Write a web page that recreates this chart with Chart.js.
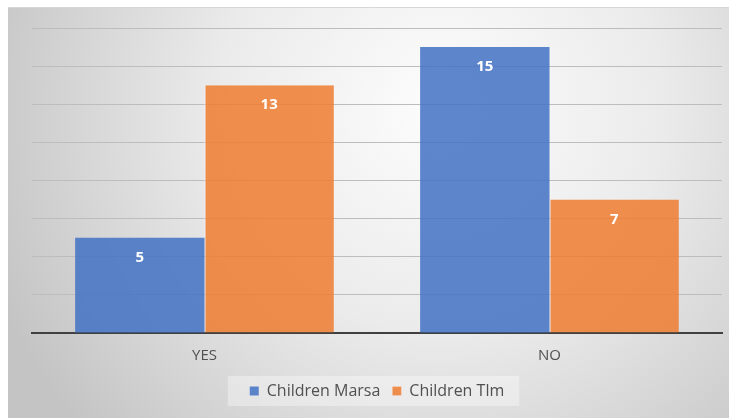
<!DOCTYPE html>
<html>
<head>
<meta charset="utf-8">
<style>
  html, body { margin: 0; padding: 0; background: #fff; }
  #wrap { width: 734px; height: 418px; position: relative; }
</style>
<script src="https://cdn.jsdelivr.net/npm/chart.js@4/dist/chart.umd.min.js"></script>
</head>
<body>
<div id="wrap"><canvas id="chart"></canvas></div>
<script>
(function () {
    'use strict';

    var categories = ['YES', 'NO'];
    var marsaValues = [5, 15];
    var tlmValues = [13, 7];
    var seriesNames = ['Children Marsa', 'Children Tlm'];

    var FONT = '"Open Sans", "Noto Sans", sans-serif';

    // gradient panel behind everything + light box behind the legend
    var panelPlugin = {
        id: 'panel',
        beforeDraw: function (chart) {
            var ctx = chart.ctx;
            var w = chart.width, h = chart.height;
            ctx.save();
            ctx.fillStyle = '#ffffff';
            ctx.fillRect(0, 0, w, h);
            var x0 = 8, y0 = 7, x1 = 729, y1 = h;
            var g = ctx.createRadialGradient(440, 110, 10, 440, 110, 480);
            g.addColorStop(0, '#fcfcfc');
            g.addColorStop(0.45, '#ebebeb');
            g.addColorStop(1, '#c4c4c4');
            ctx.fillStyle = g;
            ctx.fillRect(x0, y0, x1 - x0, y1 - y0);
            ctx.strokeStyle = '#d6d6d6';
            ctx.lineWidth = 1;
            ctx.beginPath();
            ctx.moveTo(x0, y0 + 0.5);
            ctx.lineTo(x1, y0 + 0.5);
            ctx.stroke();

            var boxes = chart.legend && chart.legend.legendHitBoxes;
            if (boxes && boxes.length) {
                var left = boxes[0].left - 22;
                var last = boxes[boxes.length - 1];
                var right = last.left + last.width + 15;
                var cy = boxes[0].top + boxes[0].height / 2;
                ctx.fillStyle = 'rgba(255,255,255,0.35)';
                ctx.fillRect(left, cy - 15, right - left, 30);
            }
            ctx.restore();
        }
    };

    // white value labels just inside the top of each bar
    var valueLabels = {
        id: 'valueLabels',
        afterDatasetsDraw: function (chart) {
            var ctx = chart.ctx;
            ctx.save();
            ctx.font = 'bold 15px ' + FONT;
            ctx.fillStyle = '#ffffff';
            ctx.textAlign = 'center';
            ctx.textBaseline = 'middle';
            chart.data.datasets.forEach(function (ds, i) {
                chart.getDatasetMeta(i).data.forEach(function (bar, j) {
                    ctx.fillText(String(ds.data[j]), bar.x, bar.y + 20);
                });
            });
            ctx.restore();
        }
    };

    new Chart(document.getElementById('chart'), {
        type: 'bar',
        data: {
            labels: categories,
            datasets: [{
                label: seriesNames[0],
                data: marsaValues,
                backgroundColor: 'rgba(68,114,196,0.86)',
                borderWidth: 0
            }, {
                label: seriesNames[1],
                data: tlmValues,
                backgroundColor: 'rgba(237,125,49,0.86)',
                borderColor: 'rgba(255,255,255,0.8)',
                borderWidth: { left: 1, top: 0, right: 0, bottom: 0 },
                borderSkipped: false
            }]
        },
        options: {
            responsive: true,
            maintainAspectRatio: false,
            animation: false,
            layout: { padding: { left: 32, right: 12, top: 28, bottom: 9 } },
            datasets: {
                bar: { categoryPercentage: 0.75, barPercentage: 1 }
            },
            plugins: {
                tooltip: { enabled: false },
                legend: {
                    position: 'bottom',
                    labels: {
                        boxWidth: 9,
                        boxHeight: 9,
                        padding: 12,
                        color: '#505050',
                        font: { family: FONT, size: 16 }
                    }
                }
            },
            scales: {
                x: {
                    grid: { display: false },
                    border: { color: '#404040', width: 2 },
                    ticks: {
                        color: '#505050',
                        padding: 6,
                        font: { family: FONT, size: 15 }
                    }
                },
                y: {
                    min: 0,
                    max: 16,
                    ticks: { display: false, stepSize: 2 },
                    border: { display: false },
                    grid: { color: '#bdbdbd', lineWidth: 1, drawTicks: false }
                }
            }
        },
        plugins: [panelPlugin, valueLabels]
    });
})();
</script>
</body>
</html>
